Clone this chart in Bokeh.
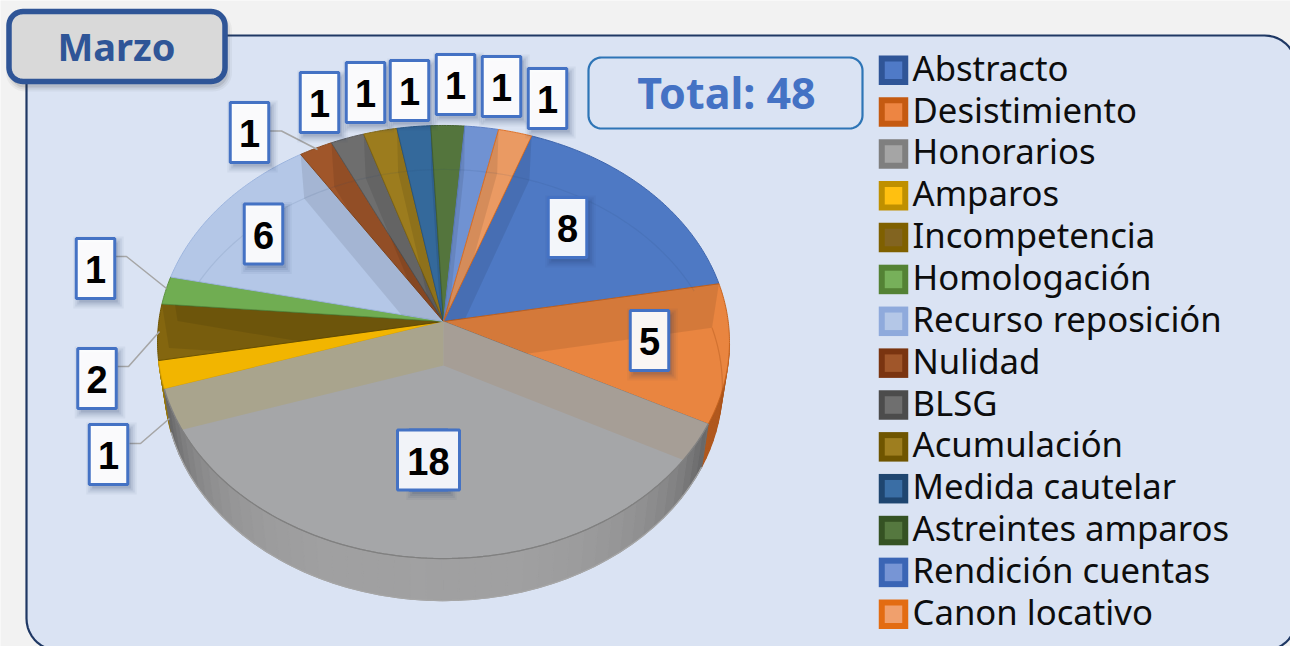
import numpy as np
from bokeh.plotting import figure
from bokeh.models import Range1d
from bokeh.core.properties import value
from bokeh.embed import file_html
from bokeh.resources import INLINE

# ---- data -----------------------------------------------------------
title_text = "Marzo"
total_text = "Total: 48"
categories = ["Abstracto", "Desistimiento", "Honorarios", "Amparos", "Incompetencia",
              "Homologación", "Recurso reposición", "Nulidad", "BLSG", "Acumulación",
              "Medida cautelar", "Astreintes amparos", "Rendición cuentas", "Canon locativo"]
values = [8, 5, 18, 1, 2, 1, 6, 1, 1, 1, 1, 1, 1, 1]

# ---- style ----------------------------------------------------------
top_colors = ["#4e79c4", "#e98540", "#a5a6a8", "#f2b500", "#84660f", "#70ad52", "#b4c7e7",
              "#a0562a", "#6e6e6e", "#9c7c1e", "#34699b", "#54753d", "#7092d2", "#ea9a63"]
legend_outer = ["#2f5597", "#c55a11", "#7f7f7f", "#bf9000", "#7f6000", "#548235", "#8faadc",
                "#7a3410", "#4c4c4c", "#6f5500", "#1f4670", "#355223", "#3a65b5", "#e36c12"]
legend_inner = ["#4f7ac7", "#ed8542", "#a5a5a5", "#ffc010", "#826420", "#77b05a", "#b4c7e7",
                "#a0562a", "#6f6f6f", "#9e7e1f", "#3a6ea5", "#55783f", "#7795d5", "#f0a06d"]
edge_colors = ["#3f66ad", "#c8641e", "#8a8a8a", "#d9a200", "#6f5500", "#5c9140", "#9db5de",
               "#8a4a20", "#5c5c5c", "#866a14", "#2a5a88", "#456332", "#5f80c4", "#e0732a"]

# label boxes: centre of each value callout, same order as categories
label_cx = [567, 649, 428, 108, 96.5, 95, 263, 249, 319, 365, 409, 455, 501, 547]
label_cy = [227, 340, 459.5, 454, 378, 268, 233.5, 132, 102, 92, 90, 84, 86, 98]
leaders = {3: [(129, 443), (140, 443), (169, 418)],
           4: [(117, 366), (128, 366), (159, 331)],
           5: [(115, 256), (126, 256), (166, 288)],
           7: [(269, 130.5), (281, 130.5), (317, 149)]}

# ---- pie geometry (perspective circle) --------------------------------
AX, AY = 443.0, 321.0
B, A, K = 284.7, 214.6, 0.0947
DEPTH = 44.0
SHRINK = 0.975
START = 19.7


def rim(t):
    r = np.radians(t)
    w = 1 + K * np.cos(r)
    return AX + B * np.sin(r) / w, AY - A * np.cos(r) / w


def low(t):
    x, y = rim(t)
    return AX + SHRINK * (x - AX), y + DEPTH + 2 * min(0.0, float(np.cos(np.radians(t))))


vals = np.array(values, dtype=float)
bounds = START + np.concatenate([[0], np.cumsum(vals)]) * 360.0 / vals.sum()
slices = []
for a, b in zip(bounds[:-1], bounds[1:]):
    ts = np.linspace(a, b, max(3, int(b - a) * 2))
    pts = [(AX, AY)] + [tuple(float(v) for v in rim(t)) for t in ts]
    slices.append(pts)


def area(poly):
    s = 0
    for (x1, y1), (x2, y2) in zip(poly, poly[1:] + poly[:1]):
        s += x1 * y2 - x2 * y1
    return s


def clip(subject, window):
    win = window if area(window) > 0 else window[::-1]
    out = subject
    for (cx1, cy1), (cx2, cy2) in zip(win, win[1:] + win[:1]):
        if not out:
            break
        if abs(cx2 - cx1) + abs(cy2 - cy1) < 1e-9:
            continue
        inp, out = out, []

        def side(p):
            return (cx2 - cx1) * (p[1] - cy1) - (cy2 - cy1) * (p[0] - cx1)

        for i in range(len(inp)):
            p, q = inp[i], inp[(i + 1) % len(inp)]
            sp, sq = side(p), side(q)
            if sp >= 0:
                out.append(p)
            if (sp >= 0) != (sq >= 0):
                u = sp / (sp - sq)
                out.append((p[0] + u * (q[0] - p[0]), p[1] + u * (q[1] - p[1])))
    return out


def rrect(x0, y0, x1, y1, r):
    pts = []
    for cx, cy, a0 in [(x1 - r, y0 + r, -90), (x1 - r, y1 - r, 0), (x0 + r, y1 - r, 90), (x0 + r, y0 + r, 180)]:
        for a in np.radians(np.linspace(a0, a0 + 90, 12)):
            pts.append((cx + r * np.cos(a), cy + r * np.sin(a)))
    return [p[0] for p in pts], [p[1] for p in pts]


def corner(e, direction):
    """Part of a radial wall that sticks out below the top face's rim."""
    lo = low(e)
    dx, dy = lo[0] - AX, lo[1] - (AY + DEPTH)
    pts = [tuple(map(float, rim(e)))]
    for k in np.arange(0.5, 40, 0.5):
        t = e + direction * k
        x, y = rim(t)
        pts.append((float(x), float(y)))
        if (x - AX) * dy - (y - AY - DEPTH) * dx > 0 if direction > 0 else (x - AX) * dy - (y - AY - DEPTH) * dx < 0:
            break
    pts.append(tuple(map(float, lo)))
    return [c[0] for c in pts], [c[1] for c in pts]


# ---- figure -----------------------------------------------------------
p = figure(width=1290, height=646, x_range=Range1d(0, 1290), y_range=Range1d(646, 0),
           output_backend="svg", toolbar_location=None, x_axis_type=None, y_axis_type=None,
           min_border=0, outline_line_color=None, background_fill_color="#f2f2f2",
           border_fill_color="#f2f2f2")
p.grid.visible = False

# panel
px, py = rrect(26, 35, 1296, 650, 32)
p.patch(px, py, fill_color="#dae3f3", line_color="#1f3864", line_width=2.2)

# title tab with soft shadow
for grow, al in [(5, 0.05), (3, 0.08), (1, 0.12)]:
    sx, sy = rrect(8.5 + 2 - grow, 11 + 5 - grow, 224.5 + 2 + grow, 81 + 5 + grow, 14 + grow)
    p.patch(sx, sy, fill_color="#3a3a3a", fill_alpha=al, line_color=None)
tx, ty = rrect(8.5, 11, 224.5, 81, 14)
p.patch(tx, ty, fill_color="#d9d9d9", line_color="#2f5597", line_width=5.5)
p.text([116], [45], text=[title_text], text_font=value("Noto Sans"), text_font_style="bold",
       text_font_size=value("38px"), text_color="#2f5597", text_align="center", text_baseline="middle")

# total box
bx, by = rrect(588, 57, 862, 128, 13)
p.patch(bx, by, fill_color="#dae3f3", line_color="#2e75b6", line_width=2.2)
p.text([726], [92], text=[total_text], text_font=value("Noto Sans"), text_font_style="bold",
       text_font_size=value("43px"), text_color="#4472c4", text_align="center", text_baseline="middle")

# outer side of the pie: a band of strips, darker toward both ends
hon_a, hon_b = bounds[2], bounds[3]
sx, sy, sc = [], [], []
for a, b, base in [(96.0, hon_a, (176, 88, 30)), (hon_b, bounds[4], (150, 118, 10))]:
    ts = np.linspace(a, b, 10)
    for t0, t1 in zip(ts[:-1], ts[1:]):
        q = [rim(t0), rim(t1), low(t1), low(t0)]
        sx.append([float(c[0]) for c in q]); sy.append([float(c[1]) for c in q])
        sc.append("#%02x%02x%02x" % base)
ts = np.linspace(hon_a, hon_b, 46)
for t0, t1 in zip(ts[:-1], ts[1:]):
    q = [rim(t0), rim(t1), low(t1), low(t0)]
    sx.append([float(c[0]) for c in q]); sy.append([float(c[1]) for c in q])
    u = abs(((t0 + t1) / 2 - (hon_a + hon_b) / 2) / ((hon_b - hon_a) / 2))
    g = int(161 - 60 * u ** 3.2)
    sc.append("#%02x%02x%02x" % (g, g, g + 1))
p.patches(sx, sy, fill_color=sc, line_color=sc, line_width=1.2)
ts = np.linspace(hon_a, hon_b, 120)
lowpts = [low(t) for t in ts]
p.line([float(c[0]) for c in lowpts], [float(c[1]) for c in lowpts], line_color="#a6a6a6", line_width=1.2)

# walls sticking out below the rim at both ends of the big slice
cx1, cy1 = corner(hon_a, 1)
cx2, cy2 = corner(hon_b, -1)
p.patches([cx1, cx2], [cy1, cy2], fill_color=["#77716c", "#6b6a5c"], line_color=None)

# top slices
p.patches([[c[0] for c in s] for s in slices], [[c[1] for c in s] for s in slices],
          fill_color=top_colors, line_color=edge_colors, line_width=1)

# radial walls seen through the translucent top
n = len(values)
wx, wy, wc, wa = [], [], [], []
SOLID = {(1, 2): "#a69e96", (3, 2): "#a9a48d"}
CLEAN = {3, 5}
for i in range(n):
    th = bounds[i] % 360
    e = bounds[i]
    wall = [(AX, AY), tuple(map(float, rim(e))), tuple(map(float, low(e))), (AX, AY + DEPTH)]
    step = 1 if th < 180 else -1
    j = i if th < 180 else (i - 1) % n
    first, cnt = True, 0
    while cnt < 2:
        big = values[j] >= 4
        if not first and big:
            break
        if j not in CLEAN or (i, j) in SOLID:
            poly = clip(wall, slices[j])
            if len(poly) >= 3:
                wx.append([c[0] for c in poly]); wy.append([c[1] for c in poly])
                key = (i, j) if (i, j) in SOLID else ((i - 1, j) if (i - 1, j) in SOLID else None)
                if key:
                    wc.append(SOLID[key]); wa.append(1.0)
                else:
                    wc.append("#000000"); wa.append(0.085)
        if big:
            break
        first = False
        cnt += 1
        j = (j + step) % n
p.patches(wx, wy, fill_color=wc, fill_alpha=wa, line_color=None)

# back part of the lower rim, faintly visible through the top
ts = np.linspace(-66, 69, 140)
lb = [low(t) for t in ts]
p.line([float(c[0]) for c in lb], [float(c[1]) for c in lb], line_color="#24406e", line_alpha=0.1, line_width=1.2)
ts = np.linspace(bounds[1], 104, 30)
lb = [low(t) for t in ts]
p.line([float(c[0]) for c in lb], [float(c[1]) for c in lb], line_color="#a04a10", line_alpha=0.3, line_width=1.2)

# front edge of the top face
ts = np.linspace(hon_a, hon_b, 120)
tp = [rim(t) for t in ts]
p.line([float(c[0]) for c in tp], [float(c[1]) for c in tp], line_color="#808080", line_width=1.3)

# leader lines
for k, pts in leaders.items():
    p.line([c[0] for c in pts], [c[1] for c in pts], line_color="#a6a6a6", line_width=1.6)

# value callouts
BW, BH = 38.5, 60
for grow, al in [(6, 0.05), (4, 0.07), (2, 0.09), (0, 0.12)]:
    p.rect(np.array(label_cx) + 3, np.array(label_cy) + 4, width=BW + grow * 2, height=BH + grow * 2,
           fill_color="#1f3864", fill_alpha=al, line_color=None)
p.rect(label_cx, label_cy, width=BW, height=BH, fill_color="#ffffff", fill_alpha=0.94,
       line_color="#4472c4", line_width=3)
# the box for the widest number is wider
p.rect([label_cx[2]], [label_cy[2]], width=62, height=BH, fill_color="#f1f3f8",
       line_color="#4472c4", line_width=3)
p.text(label_cx, np.array(label_cy) + 1, text=[str(v) for v in values], text_font=value("Liberation Sans"),
       text_font_style="bold", text_font_size=value("38px"), text_color="#000000",
       text_align="center", text_baseline="middle")

# legend
ly = 69.7 + 41.85 * np.arange(n)
p.rect(np.full(n, 893.0), ly, width=29.5, height=29.5, fill_color=legend_outer, line_color=None)
p.rect(np.full(n, 893.0), ly, width=17.5, height=17.5, fill_color=legend_inner, line_color=None)
p.text(np.full(n, 912.0), ly - 3, text=categories, text_font=value("Noto Sans"), text_font_size=value("34.7px"),
       text_color="#0d0d0d", text_align="left", text_baseline="middle")

open("out.html", "w").write(file_html(p, INLINE))
